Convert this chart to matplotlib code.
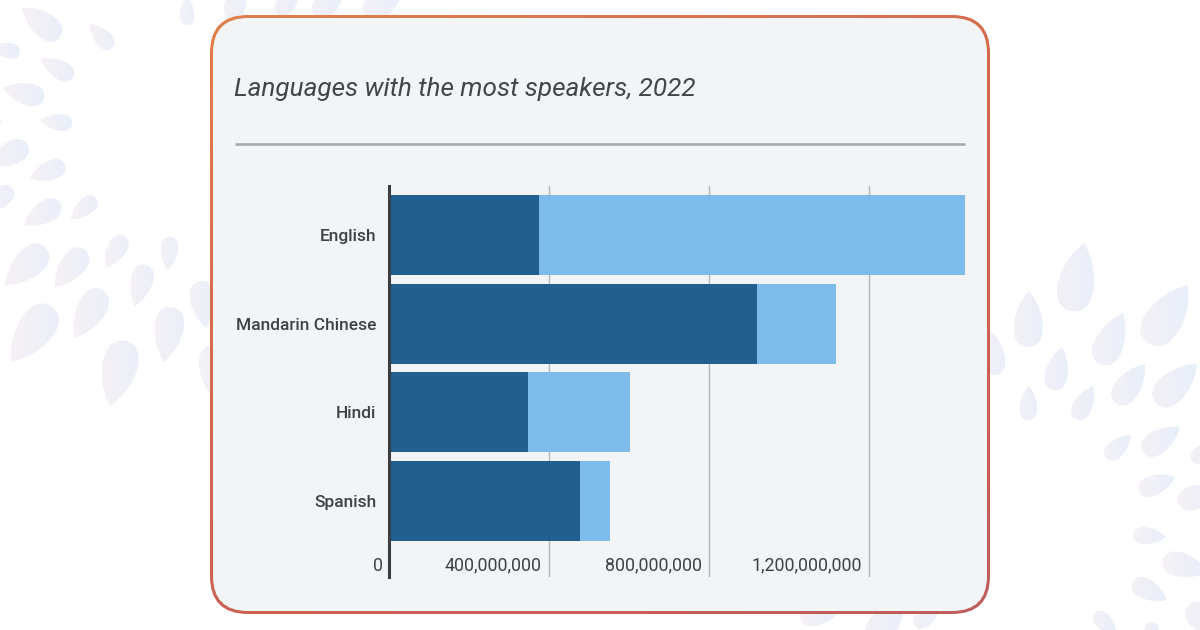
import numpy as np
import matplotlib
matplotlib.use('Agg')
import matplotlib.pyplot as plt
from matplotlib.patches import FancyBboxPatch, PathPatch
from matplotlib.path import Path
from matplotlib.colors import LinearSegmentedColormap

plt.rcParams['font.family'] = ['Roboto', 'DejaVu Sans']

### chart values (millions of speakers)
languages = ['English', 'Mandarin Chinese', 'Hindi', 'Spanish']
native = [375, 920, 347, 478]
second_language = [1065, 198, 255, 74]
xtick_values = [400, 800, 1200]
xtick_labels = ['400,000,000', '800,000,000', '1,200,000,000']
title = 'Languages with the most speakers, 2022'

# background leaves, pixel positions: tip x, tip y, round end x, round end y
leaves = [
    (22, 8, 60, 37), (90, 24, 112, 48), (41, 59, 73, 77), (3, 88, 44, 98),
    (40, 120, 72, 124), (-10, 48, 20, 52), (-12, 118, 1, 122),
    (30, 178, 65, 165), (-12, 165, 28, 145), (24, 225, 60, 203),
    (71, 219, 96, 198), (-15, 212, 12, 188), (5, 285, 46, 248),
    (55, 287, 85, 250), (106, 268, 124, 236), (168, 270, 170, 237),
    (135, 306, 146, 265), (11, 362, 52, 307), (75, 338, 102, 290),
    (110, 406, 126, 341), (164, 362, 172, 307), (206, 328, 200, 281),
    (210, 393, 212, 346), (187, -3, 187, 25), (240, -20, 232, 20),
    (300, -15, 278, 14), (345, -15, 315, 16), (405, -15, 365, 16),
    (1084, 243, 1071, 311), (1029, 291, 1028, 347), (1123, 313, 1100, 364),
    (1188, 285, 1148, 343), (1062, 347, 1053, 390), (1029, 386, 1028, 420),
    (1093, 386, 1076, 419), (1145, 364, 1116, 403), (1197, 364, 1156, 403),
    (1131, 435, 1106, 458), (1180, 427, 1143, 452), (1175, 477, 1139, 491),
    (1166, 537, 1133, 535), (1208, 572, 1163, 560), (1167, 600, 1133, 582),
    (1117, 635, 1095, 613), (990, 330, 995, 375), (1215, 440, 1193, 462),
    (1222, 490, 1178, 502), (1222, 640, 1189, 605), (1150, 650, 1152, 622),
    (845, 605, 800, 618), (905, 600, 870, 640), (940, 605, 915, 626),
]

fig = plt.figure(figsize=(12, 6.3), dpi=100, facecolor='white')
W, H = 1200, 630

# full figure layer in pixel coordinates for the decoration
bg = fig.add_axes([0, 0, 1, 1], zorder=0)
bg.set_xlim(0, W)
bg.set_ylim(H, 0)
bg.axis('off')

leaf_cmap = LinearSegmentedColormap.from_list('leaf', ['#f7f1f6', '#e8effa'])
ramp = np.linspace(0, 1, 64).reshape(1, -1)


def draw_leaf(tx, ty, bx, by):
    tip = np.array([tx, ty], float)
    u = np.array([bx - tx, by - ty], float)
    n = np.array([-u[1], u[0]])
    verts = [tip,
             tip + 0.35 * u + 0.32 * n, tip + 1.0 * u + 0.38 * n, tip + u,
             tip + 1.0 * u - 0.38 * n, tip + 0.35 * u - 0.32 * n, tip]
    codes = [Path.MOVETO] + [Path.CURVE4] * 6
    patch = PathPatch(Path(verts, codes), fc='none', ec='none', transform=bg.transData)
    bg.add_patch(patch)
    xs = [v[0] for v in verts]
    ys = [v[1] for v in verts]
    im = bg.imshow(ramp, cmap=leaf_cmap, aspect='auto',
                   extent=(min(xs), max(xs), max(ys), min(ys)), zorder=1)
    im.set_clip_path(patch)


for leaf in leaves:
    draw_leaf(*leaf)
bg.set_xlim(0, W)
bg.set_ylim(H, 0)

# card with a gradient border
border = FancyBboxPatch((210, 15), 780, 599, boxstyle='round,pad=0,rounding_size=38',
                        fc='none', ec='none', zorder=2)
bg.add_patch(border)
gx, gy = np.meshgrid(np.linspace(0, 1, 200), np.linspace(0, 1, 200))
border_cmap = LinearSegmentedColormap.from_list('border', ['#e27e4b', '#d0664f', '#c15c5d'])
im = bg.imshow(0.35 * gx + 0.65 * gy, cmap=border_cmap, aspect='auto',
               extent=(210, 990, 614, 15), zorder=2)
im.set_clip_path(border)
bg.add_patch(FancyBboxPatch((213, 18), 774, 593, boxstyle='round,pad=0,rounding_size=35',
                            fc='#f2f4f6', ec='none', zorder=3))
bg.set_xlim(0, W)
bg.set_ylim(H, 0)

# title and rule
bg.text(234, 89, title, fontsize=18.8, style='italic', color='#43454a',
        ha='left', va='center', zorder=4)
bg.plot([235, 965], [144, 144], color='#a9aaad', lw=1.9, zorder=4, solid_capstyle='butt')

### the bars
left, right, top, bottom = 389, 965, 186, 577
ax = fig.add_axes([left / W, 1 - bottom / H, (right - left) / W, (bottom - top) / H], zorder=1)
ax.patch.set_alpha(0)

y = np.arange(len(languages))
ax.barh(y, native, height=0.9, color='#225f8e', zorder=2)
ax.barh(y, second_language, height=0.9, left=native, color='#7dbbea', zorder=2)

ax.set_xlim(0, 1440)
ax.set_ylim(3.857, -0.553)
ax.set_yticks(y, languages)
ax.set_xticks(xtick_values, [])
ax.tick_params(axis='y', length=0, pad=9.2, labelsize=12.5, labelcolor='#3f4144')
for lab in ax.get_yticklabels():
    lab.set_fontweight(500)
ax.tick_params(axis='x', length=0)
ax.grid(axis='x', color='#b4b5b7', lw=1.0, zorder=1)
ax.set_axisbelow(True)

for side in ['top', 'right', 'bottom']:
    ax.spines[side].set_visible(False)
ax.spines['left'].set_color('#3b3d40')
ax.spines['left'].set_linewidth(2.2)
ax.spines['left'].set_zorder(5)

# tick labels sit inside the plot, left of each gridline
trans = ax.get_xaxis_transform()
for val, lab in zip(xtick_values, xtick_labels):
    ax.annotate(lab, (val, 0), xycoords=trans, xytext=(-5.2, 8.2), textcoords='offset points',
                ha='right', va='center', fontsize=12.8, color='#3f4144')
ax.annotate('0', (0, 0), xycoords=trans, xytext=(-4.6, 8.2), textcoords='offset points',
            ha='right', va='center', fontsize=12.8, color='#3f4144', annotation_clip=False)

fig.savefig('out.png', dpi=100)
